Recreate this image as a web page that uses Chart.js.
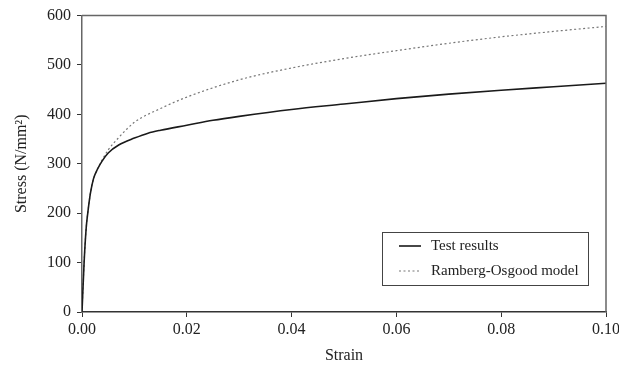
<!DOCTYPE html>
<html>
<head>
<meta charset="utf-8">
<script src="https://cdn.jsdelivr.net/npm/chart.js@4/dist/chart.umd.min.js"></script>
<style>
  html, body { margin: 0; padding: 0; background: #fff; overflow: hidden; }
  #wrap { width: 640px; height: 365px; }
</style>
</head>
<body>
<div id="wrap"><canvas id="myChart" width="640" height="365"></canvas></div>
<script>
// values
var testStrain = [0, 0.0004, 0.0008, 0.0011, 0.0016, 0.0022, 0.003, 0.0038, 0.005, 0.007, 0.01, 0.0126, 0.015, 0.02, 0.025, 0.03, 0.04, 0.05, 0.06, 0.07, 0.08, 0.09, 0.1];
var testStress = [0, 100, 170, 200, 240, 270, 290, 305, 322, 338, 352, 362, 368, 378, 388, 396, 410, 421, 432, 441, 449, 456, 463];

var modelStrain = [0, 0.0004, 0.0008, 0.0011, 0.0016, 0.0022, 0.003, 0.0038, 0.005, 0.007, 0.01, 0.015, 0.02, 0.03, 0.04, 0.05, 0.06, 0.07, 0.08, 0.09, 0.1];
var modelStress = [0, 100, 170, 200, 240, 270, 291, 307, 328, 353, 384, 412, 435, 470, 494, 513, 529, 544, 557, 568, 578];

var seriesNames = ['Test results', 'Ramberg-Osgood model'];
var xTicks = [0, 0.02, 0.04, 0.06, 0.08, 0.1];
var yTicks = [0, 100, 200, 300, 400, 500, 600];

function toPoints(xs, ys) {
    var pts = [];
    for (var i = 0; i < xs.length; i++) pts.push({ x: xs[i], y: ys[i] });
    return pts;
}

var FONT = 'Liberation Serif';
var INK = '#222';

// frame on top/right plus boxed legend
var framePlugin = {
    id: 'frame',
    afterDraw: function(chart) {
        var c = chart.ctx, a = chart.chartArea;
        c.save();
        c.strokeStyle = '#666';
        c.lineWidth = 1.5;
        c.beginPath();
        c.moveTo(a.left, a.top);
        c.lineTo(a.right, a.top);
        c.lineTo(a.right, a.bottom);
        c.stroke();

        // legend box
        var bx = a.right - 224, by = a.bottom - 80, bw = 206, bh = 53;
        c.fillStyle = '#fff';
        c.fillRect(bx, by, bw, bh);
        c.strokeStyle = '#444';
        c.lineWidth = 1;
        c.strokeRect(bx + 0.5, by + 0.5, bw, bh);

        var rows = [by + 14, by + 39];
        chart.data.datasets.forEach(function(ds, i) {
            c.beginPath();
            c.strokeStyle = ds.borderColor;
            c.lineWidth = ds.borderWidth;
            c.setLineDash(ds.borderDash || []);
            c.moveTo(bx + 17, rows[i]);
            c.lineTo(bx + 39, rows[i]);
            c.stroke();
            c.setLineDash([]);
            c.fillStyle = INK;
            c.font = '15px "' + FONT + '"';
            c.textBaseline = 'middle';
            c.fillText(ds.label, bx + 49, rows[i]);
        });
        c.restore();
    }
};

var ctx = document.getElementById('myChart').getContext('2d');
var chart = new Chart(ctx, {
    type: 'line',
    data: {
        datasets: [{
            label: seriesNames[0],
            data: toPoints(testStrain, testStress),
            borderColor: '#1a1a1a',
            borderWidth: 1.6,
            pointRadius: 0,
            cubicInterpolationMode: 'monotone',
            fill: false
        }, {
            label: seriesNames[1],
            data: toPoints(modelStrain, modelStress),
            borderColor: '#777',
            borderWidth: 1.2,
            borderDash: [2, 2.5],
            pointRadius: 0,
            cubicInterpolationMode: 'monotone',
            fill: false
        }]
    },
    options: {
        responsive: false,
        animation: false,
        layout: { padding: { top: 15, right: 34, left: 12, bottom: 0 } },
        plugins: { legend: { display: false }, tooltip: { enabled: false } },
        scales: {
            x: {
                type: 'linear',
                min: 0,
                max: 0.1,
                afterBuildTicks: function(s) { s.ticks = xTicks.map(function(v) { return { value: v }; }); },
                afterFit: function(s) { s.height = 53; },
                ticks: {
                    color: INK,
                    font: { family: FONT, size: 16 },
                    padding: 3,
                    maxRotation: 0,
                    callback: function(v) { return v.toFixed(2); }
                },
                grid: { drawOnChartArea: false, drawTicks: true, tickLength: 5, color: '#333' },
                border: { color: '#333', width: 1.5 },
                title: {
                    display: true,
                    text: 'Strain',
                    color: INK,
                    font: { family: FONT, size: 16 },
                    padding: { top: 4, bottom: 0 }
                }
            },
            y: {
                min: 0,
                max: 600,
                afterBuildTicks: function(s) { s.ticks = yTicks.map(function(v) { return { value: v }; }); },
                afterFit: function(s) { s.width = 70; },
                ticks: {
                    color: INK,
                    font: { family: FONT, size: 16 },
                    padding: 6
                },
                grid: { drawOnChartArea: false, drawTicks: true, tickLength: 5, color: '#333' },
                border: { color: '#666', width: 1.5 },
                title: {
                    display: true,
                    text: 'Stress (N/mm²)',
                    color: INK,
                    font: { family: FONT, size: 16 },
                    padding: { top: 0, bottom: 4 }
                }
            }
        }
    },
    plugins: [framePlugin]
});
</script>
</body>
</html>
